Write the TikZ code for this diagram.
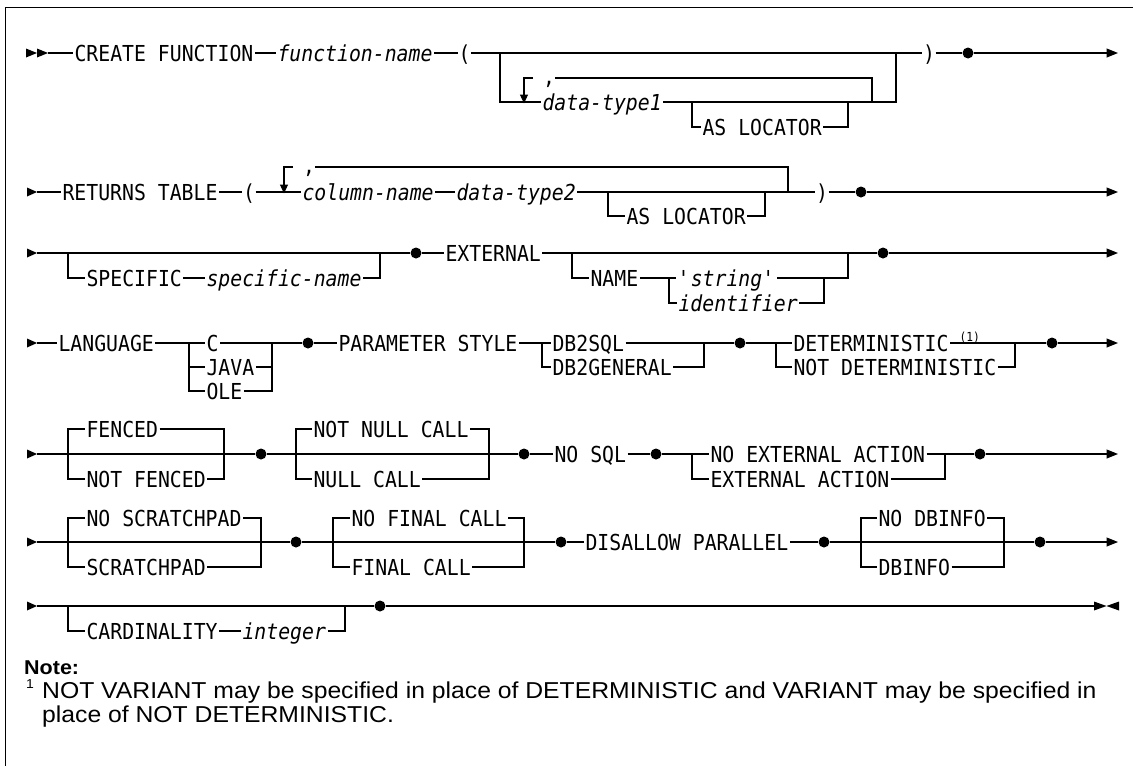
\documentclass[tikz,border=0pt]{standalone}
\usepackage{fontspec}
\usetikzlibrary{arrows.meta}
\newfontfamily\rrmono{DejaVu Sans Mono}[FakeStretch=0.9]
\newfontfamily\notesans{Liberation Sans}[FakeStretch=1.075]
\tikzset{
  rail/.style={line width=1.1pt},
  kw/.style={font=\rrmono\fontsize{22}{24}\selectfont, inner xsep=1pt, inner ysep=0pt, text height=16pt, text depth=0pt, anchor=west},
  vname/.style={kw, font=\rrmono\itshape\fontsize{22}{24}\selectfont},
  paren/.style={kw, anchor=center, inner xsep=0pt, minimum width=12pt},
  commamark/.style={font=\rrmono\fontsize{22}{24}\selectfont, inner sep=0pt, anchor=base},
  junct/.style={circle, fill, inner sep=0pt, minimum size=11pt},
  endarrow/.style={-{Triangle[length=11.5pt,width=9pt]}},
  loopdown/.style={-{Triangle[length=9pt,width=8pt]}},
  refmark/.style={font=\rrmono\fontsize{12.5}{14}\selectfont, inner sep=0pt, anchor=base west},
  notehead/.style={font=\notesans\bfseries\fontsize{20}{23}\selectfont, inner sep=0pt, anchor=base west},
  notebody/.style={font=\notesans\fontsize{23}{26}\selectfont, inner sep=0pt, anchor=base west},
  notemark/.style={font=\notesans\fontsize{13}{15}\selectfont, inner sep=0pt, anchor=base west},
}
\begin{document}
\begin{tikzpicture}[x=1pt,y=-1pt]
\useasboundingbox (0,0) rectangle (1133,766);
% frame
\draw[line width=1pt] (5,766) -- (5,7) -- (1133,7);

\begin{scope}[rail]
% ================= Row 1 =================
\fill (26,48.5) -- (37,53) -- (26,57.5) -- cycle;
\fill (37,48.5) -- (48,53) -- (37,57.5) -- cycle;
\coordinate (s1e) at (48,53);
\node[kw] (cf) at (73,53) {CREATE FUNCTION};
\node[vname] (fn) at (276,53) {function-name};
\node[paren] (lp1) at (464.5,53) {(};
\node[paren] (rp1) at (929,53) {)};
\node[junct] (d1) at (968,53) {};
\coordinate (e1) at (1118,53);
\draw (s1e) -- (cf) -- (fn) -- (lp1) -- (rp1) -- (d1);
\draw[endarrow] (d1) -- (e1);
\coordinate (b1a) at (500,53);
\coordinate (b1b) at (896,53);
\node[vname] (dt1) at (541,102) {data-type1};
\draw (b1a) |- (dt1.west);
\draw (dt1.east) -| (b1b);
\coordinate (a1a) at (692,102);
\coordinate (a1b) at (848,102);
\node[kw] (al1) at (701,127) {AS LOCATOR};
\draw (a1a) |- (al1.west);
\draw (al1.east) -| (a1b);
\coordinate (l1r) at (872,102);
\coordinate (l1c) at (555,78);
\coordinate (l1d) at (533,78);
\coordinate (l1e) at (524,78);
\coordinate (l1f) at (524,103.5);
\node[commamark] (cm1) at (549,84) {,};
\draw (l1r) |- (l1c);
\draw[loopdown] (l1d) -- (l1e) -- (l1f);

% ================= Row 2 =================
\fill (27,187.5) -- (37,192) -- (27,196.5) -- cycle;
\coordinate (s2e) at (37,192);
\node[kw] (rt) at (61,192) {RETURNS TABLE};
\node[paren] (lp2) at (249,192) {(};
\node[vname] (cn) at (301,192) {column-name};
\node[vname] (dt2) at (455,192) {data-type2};
\node[paren] (rp2) at (822,192) {)};
\node[junct] (d2) at (861,192) {};
\coordinate (e2) at (1118,192);
\draw (s2e) -- (rt) -- (lp2) -- (cn) -- (dt2) -- (rp2) -- (d2);
\draw[endarrow] (d2) -- (e2);
\coordinate (a2a) at (608,192);
\coordinate (a2b) at (765,192);
\node[kw] (al2) at (625,216) {AS LOCATOR};
\draw (a2a) |- (al2.west);
\draw (al2.east) -| (a2b);
\coordinate (l2r) at (788,192);
\coordinate (l2c) at (315,167);
\coordinate (l2d) at (293,167);
\coordinate (l2e) at (284,167);
\coordinate (l2f) at (284,193.5);
\node[commamark] (cm2) at (309,173) {,};
\draw (l2r) |- (l2c);
\draw[loopdown] (l2d) -- (l2e) -- (l2f);

% ================= Row 3 =================
\fill (27,248.5) -- (37,253) -- (27,257.5) -- cycle;
\coordinate (s3e) at (37,253);
\coordinate (b3a) at (68,253);
\coordinate (b3b) at (380,253);
\node[kw] (sp) at (85,278) {SPECIFIC};
\node[vname] (spn) at (205,278) {specific-name};
\draw (b3a) |- (sp.west);
\draw (sp) -- (spn);
\draw (spn.east) -| (b3b);
\node[junct] (d3a) at (416,253) {};
\node[kw] (ext) at (444,253) {EXTERNAL};
\node[junct] (d3b) at (883,253) {};
\coordinate (e3) at (1118,253);
\draw (s3e) -- (d3a) -- (ext) -- (d3b);
\draw[endarrow] (d3b) -- (e3);
\coordinate (b3c) at (572,253);
\coordinate (b3d) at (848,253);
\node[kw] (nm) at (589,278) {NAME};
\node[vname] (str) at (676,278) {\textquotesingle string\textquotesingle};
\node[vname] (idf) at (677,303) {identifier};
\coordinate (b3e) at (669,278);
\coordinate (b3f) at (824,278);
\draw (b3c) |- (nm.west);
\draw (nm) -- (str);
\draw (str.east) -| (b3d);
\draw (b3e) |- (idf.west);
\draw (idf.east) -| (b3f);

% ================= Row 4 =================
\fill (27,338.5) -- (37,343) -- (27,347.5) -- cycle;
\coordinate (s4e) at (37,343);
\node[kw] (lang) at (57,343) {LANGUAGE};
\node[kw] (lc) at (205,343) {C};
\node[kw] (ljava) at (205,367) {JAVA};
\node[kw] (lole) at (205,391) {OLE};
\coordinate (b4a) at (189,343);
\coordinate (b4b) at (272,343);
\node[junct] (d4a) at (308,343) {};
\node[kw] (ps) at (337,343) {PARAMETER STYLE};
\node[kw] (dbs) at (551,343) {DB2SQL};
\node[kw] (dbg) at (551,367) {DB2GENERAL};
\coordinate (b4c) at (542,343);
\coordinate (b4d) at (704,343);
\node[junct] (d4b) at (740,343) {};
\node[kw] (det) at (792,343) {DETERMINISTIC};
\node[kw] (ndet) at (792,367) {NOT DETERMINISTIC};
\node[refmark] (ref1) at (959,341) {(1)};
\coordinate (b4e) at (776,343);
\coordinate (b4f) at (1015,343);
\node[junct] (d4c) at (1052,343) {};
\coordinate (e4) at (1118,343);
\draw (s4e) -- (lang) -- (lc) -- (d4a) -- (ps) -- (dbs);
\draw (b4a) |- (lole.west);
\draw (b4a |- ljava.west) -- (ljava.west);
\draw (ljava.east) -| (b4b);
\draw (lole.east) -| (b4b);
\draw (dbs) -- (d4b) -- (det);
\draw (b4c) |- (dbg.west);
\draw (dbg.east) -| (b4d);
\draw (det.east) -- (d4c);
\draw (b4e) |- (ndet.west);
\draw (ndet.east) -| (b4f);
\draw[endarrow] (d4c) -- (e4);

% ================= Row 5 =================
\fill (27,449.5) -- (37,454) -- (27,458.5) -- cycle;
\coordinate (s5e) at (37,454);
\coordinate (b5a) at (68,454);
\coordinate (b5b) at (224,454);
\node[kw] (fen) at (85,429) {FENCED};
\node[kw] (nfen) at (85,479) {NOT FENCED};
\node[junct] (d5a) at (261,454) {};
\coordinate (b5c) at (296,454);
\coordinate (b5d) at (489,454);
\node[kw] (nnc) at (312,429) {NOT NULL CALL};
\node[kw] (nc) at (312,479) {NULL CALL};
\node[junct] (d5b) at (524,454) {};
\node[kw] (nosql) at (553,454) {NO SQL};
\node[junct] (d5c) at (656,454) {};
\coordinate (b5e) at (692,454);
\coordinate (b5f) at (945,454);
\node[kw] (nea) at (709,454) {NO EXTERNAL ACTION};
\node[kw] (ea) at (709,479) {EXTERNAL ACTION};
\node[junct] (d5d) at (980,454) {};
\coordinate (e5) at (1118,454);
\draw (s5e) -- (d5a) -- (d5b) -- (nosql) -- (d5c) -- (nea) -- (d5d);
\draw[endarrow] (d5d) -- (e5);
\draw (b5a) |- (fen.west);  \draw (fen.east) -| (b5b);
\draw (b5a) |- (nfen.west); \draw (nfen.east) -| (b5b);
\draw (b5c) |- (nnc.west);  \draw (nnc.east) -| (b5d);
\draw (b5c) |- (nc.west);   \draw (nc.east) -| (b5d);
\draw (b5e) |- (ea.west);   \draw (ea.east) -| (b5f);

% ================= Row 6 =================
\fill (27,537.5) -- (37,542) -- (27,546.5) -- cycle;
\coordinate (s6e) at (37,542);
\coordinate (b6a) at (68,542);
\coordinate (b6b) at (261,542);
\node[kw] (nsp) at (85,518) {NO SCRATCHPAD};
\node[kw] (scp) at (85,567) {SCRATCHPAD};
\node[junct] (d6a) at (296,542) {};
\coordinate (b6c) at (333,542);
\coordinate (b6d) at (524,542);
\node[kw] (nfc) at (350,518) {NO FINAL CALL};
\node[kw] (fc) at (350,567) {FINAL CALL};
\node[junct] (d6b) at (561,542) {};
\node[kw] (dp) at (584,542) {DISALLOW PARALLEL};
\node[junct] (d6c) at (824,542) {};
\coordinate (b6e) at (861,542);
\coordinate (b6f) at (1004,542);
\node[kw] (ndb) at (877,518) {NO DBINFO};
\node[kw] (db) at (877,567) {DBINFO};
\node[junct] (d6d) at (1040,542) {};
\coordinate (e6) at (1118,542);
\draw (s6e) -- (d6a) -- (d6b) -- (dp) -- (d6c) -- (d6d);
\draw[endarrow] (d6d) -- (e6);
\draw (b6a) |- (nsp.west); \draw (nsp.east) -| (b6b);
\draw (b6a) |- (scp.west); \draw (scp.east) -| (b6b);
\draw (b6c) |- (nfc.west); \draw (nfc.east) -| (b6d);
\draw (b6c) |- (fc.west);  \draw (fc.east) -| (b6d);
\draw (b6e) |- (ndb.west); \draw (ndb.east) -| (b6f);
\draw (b6e) |- (db.west);  \draw (db.east) -| (b6f);

% ================= Row 7 =================
\fill (27,601.5) -- (37,606) -- (27,610.5) -- cycle;
\coordinate (s7e) at (37,606);
\coordinate (b7a) at (68,606);
\coordinate (b7b) at (345,606);
\node[kw] (card) at (85,631) {CARDINALITY};
\node[vname] (intg) at (241,631) {integer};
\node[junct] (d7) at (380,606) {};
\coordinate (e7) at (1094,606);
\draw (s7e) -- (d7) -- (e7);
\draw (b7a) |- (card.west);
\draw (card) -- (intg);
\draw (intg.east) -| (b7b);
\fill (1094,601.5) -- (1106.5,606) -- (1094,610.5) -- cycle;
\fill (1119,601.5) -- (1106.5,606) -- (1119,610.5) -- cycle;
\end{scope}

% ================= Note =================
\node[notehead] (note) at (24,674) {Note:};
\node[notemark] (nmk) at (26,688) {1};
\node[notebody] (nl1) at (42,698) {NOT VARIANT may be specified in place of DETERMINISTIC and VARIANT may be specified in};
\node[notebody] (nl2) at (42,722) {place of NOT DETERMINISTIC.};
\end{tikzpicture}
\end{document}
